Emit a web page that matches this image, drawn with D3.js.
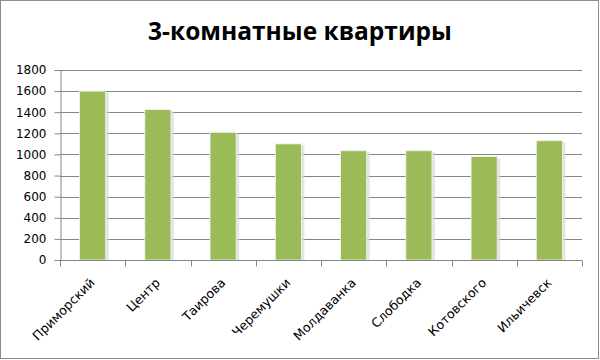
<!DOCTYPE html>
<html><head><meta charset="utf-8">
<script src="https://cdn.jsdelivr.net/npm/d3@7"></script>
<style>html,body{margin:0;padding:0;background:#fff}svg{display:block}</style>
</head><body>
<script>
const categories = ["Приморский","Центр","Таирова","Черемушки","Молдаванка","Слободка","Котовского","Ильичевск"];
const values = [1600,1425,1210,1100,1035,1035,980,1130];
const yTicks = [0,200,400,600,800,1000,1200,1400,1600,1800];
const title = "3-комнатные квартиры";

const W=600,H=360;
const m={left:60,right:18,top:70,bottom:100};
const svg=d3.select("body").append("svg").attr("width",W).attr("height",H);
svg.append("rect").attr("x",0.5).attr("y",0.5).attr("width",W-2).attr("height",H-2)
  .attr("fill","#fff").attr("stroke","#8c8c8c").attr("stroke-width",1);

const x=d3.scaleBand().domain(categories).range([m.left,W-m.right]).paddingInner(0.6).paddingOuter(0.3);
const y=d3.scaleLinear().domain([0,1800]).range([H-m.bottom,m.top]);

svg.append("text").attr("x",300).attr("y",40).attr("text-anchor","middle")
  .attr("font-family","'Open Sans',sans-serif").attr("font-weight","bold").attr("font-size",24.5)
  .attr("fill","#000").text(title);

// gridlines
svg.append("g").selectAll("line").data(yTicks.slice(1)).join("line")
  .attr("x1",m.left).attr("x2",W-m.right).attr("y1",d=>Math.round(y(d))+0.5).attr("y2",d=>Math.round(y(d))+0.5)
  .attr("stroke","#868686").attr("stroke-width",1);

// shadows
svg.append("g").selectAll("rect").data(values).join("rect")
  .attr("x",(d,i)=>x(categories[i])+1.5).attr("y",d=>y(d)+1.5)
  .attr("width",x.bandwidth()+1.5).attr("height",d=>y(0)-y(d)-1.5)
  .attr("fill","#d9d9d9").attr("opacity",0.7);

// bars
svg.append("g").selectAll("rect").data(values).join("rect")
  .attr("x",(d,i)=>x(categories[i])).attr("y",d=>y(d))
  .attr("width",x.bandwidth()).attr("height",d=>y(0)-y(d))
  .attr("fill","#9bbb59").attr("stroke","#f2f5ea").attr("stroke-width",0.8);

// y axis
const ya=svg.append("g").attr("transform",`translate(${m.left+0.5},0)`)
  .call(d3.axisLeft(y).tickValues(yTicks).tickSize(6).tickPadding(8).tickFormat(d3.format("d")));
ya.select(".domain").attr("stroke","#868686");
ya.selectAll(".tick line").attr("stroke","#868686");
ya.selectAll("text").attr("font-family","'DejaVu Sans',sans-serif").attr("font-size",12).attr("fill","#000");

// x axis
const xa=svg.append("g").attr("transform",`translate(0,${y(0)+0.5})`);
xa.append("line").attr("x1",m.left).attr("x2",W-m.right).attr("stroke","#868686");
const edges=d3.range(categories.length+1).map(i=>m.left+i*(W-m.right-m.left)/categories.length);
xa.selectAll("line.t").data(edges).join("line").attr("class","t")
  .attr("x1",d=>Math.round(d)+0.5).attr("x2",d=>Math.round(d)+0.5).attr("y1",0).attr("y2",6).attr("stroke","#868686");
xa.selectAll("text").data(categories).join("text")
  .attr("transform",d=>`translate(${x(d)+x.bandwidth()/2+3},${23}) rotate(-45)`)
  .attr("text-anchor","end")
  .attr("font-family","'DejaVu Sans',sans-serif").attr("font-size",12.6).attr("fill","#000").text(d=>d);
</script>
</body></html>
